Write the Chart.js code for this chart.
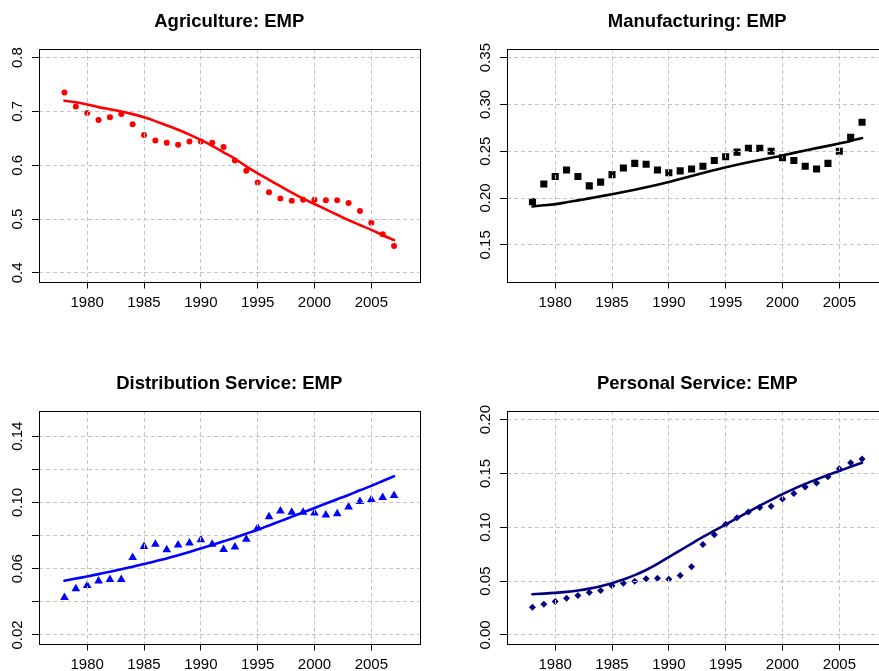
<!DOCTYPE html>
<html>
<head>
<meta charset="utf-8">
<title>Employment shares by sector</title>
<script src="https://cdn.jsdelivr.net/npm/chart.js@4/dist/chart.umd.min.js"></script>
<style>
  html, body { margin: 0; padding: 0; background: #fff; overflow: hidden; }
  #panels { position: relative; width: 879px; height: 671px; overflow: hidden; }
  #panels canvas { position: absolute; }
</style>
</head>
<body>
<div id="panels">
  <canvas id="agriChart" width="468" height="362" style="left:0;top:0"></canvas>
  <canvas id="mfgChart" width="468" height="362" style="left:468px;top:0"></canvas>
  <canvas id="distChart" width="468" height="362" style="left:0;top:362px"></canvas>
  <canvas id="persChart" width="468" height="362" style="left:468px;top:362px"></canvas>
</div>
<script>
const years = [1978, 1979, 1980, 1981, 1982, 1983, 1984, 1985, 1986, 1987,
  1988, 1989, 1990, 1991, 1992, 1993, 1994, 1995, 1996, 1997,
  1998, 1999, 2000, 2001, 2002, 2003, 2004, 2005, 2006, 2007];

// observed employment shares
const agriEmp = [0.735, 0.709, 0.697, 0.684, 0.689, 0.695, 0.676, 0.656, 0.646, 0.642,
  0.638, 0.644, 0.644, 0.642, 0.634, 0.609, 0.590, 0.568, 0.550, 0.538,
  0.534, 0.536, 0.536, 0.535, 0.535, 0.530, 0.515, 0.493, 0.472, 0.450];
const mfgEmp = [0.196, 0.215, 0.223, 0.230, 0.223, 0.213, 0.217, 0.225, 0.232, 0.237,
  0.236, 0.230, 0.227, 0.229, 0.231, 0.234, 0.240, 0.244, 0.249, 0.253,
  0.253, 0.250, 0.243, 0.240, 0.234, 0.231, 0.237, 0.250, 0.265, 0.281];
const distEmp = [0.0426, 0.0478, 0.0499, 0.0525, 0.0535, 0.0535, 0.0668, 0.0734, 0.0747, 0.0714,
  0.0743, 0.0755, 0.0775, 0.0747, 0.0716, 0.0730, 0.0777, 0.0847, 0.0914, 0.0948,
  0.0940, 0.0940, 0.0936, 0.0924, 0.0932, 0.0972, 0.1005, 0.1017, 0.1029, 0.1041];
const persEmp = [0.0257, 0.0285, 0.0310, 0.0341, 0.0366, 0.0394, 0.0412, 0.0456, 0.0480, 0.0499,
  0.0521, 0.0527, 0.0518, 0.0552, 0.0633, 0.0840, 0.0930, 0.1029, 0.1088, 0.1141,
  0.1184, 0.1195, 0.1262, 0.1313, 0.1375, 0.1411, 0.1470, 0.1544, 0.1600, 0.1634];

// fitted model curves
const agriFit = [0.720, 0.717, 0.713, 0.708, 0.704, 0.700, 0.695, 0.689, 0.682, 0.674,
  0.666, 0.657, 0.647, 0.636, 0.624, 0.612, 0.598, 0.585, 0.573, 0.561,
  0.549, 0.538, 0.528, 0.518, 0.508, 0.498, 0.489, 0.480, 0.470, 0.461];
const mfgFit = [0.1910, 0.1922, 0.1935, 0.1954, 0.1975, 0.1996, 0.2018, 0.2040, 0.2064, 0.2089,
  0.2115, 0.2142, 0.2171, 0.2202, 0.2234, 0.2266, 0.2298, 0.2329, 0.2356, 0.2382,
  0.2407, 0.2431, 0.2455, 0.2482, 0.2508, 0.2533, 0.2557, 0.2583, 0.2610, 0.2640];
const distFit = [0.0527, 0.0540, 0.0553, 0.0567, 0.0581, 0.0596, 0.0612, 0.0628, 0.0645, 0.0662,
  0.0681, 0.0701, 0.0722, 0.0743, 0.0765, 0.0787, 0.0811, 0.0835, 0.0861, 0.0887,
  0.0913, 0.0940, 0.0966, 0.0993, 0.1019, 0.1045, 0.1073, 0.1100, 0.1129, 0.1158];
const persFit = [0.0378, 0.0383, 0.0390, 0.0400, 0.0413, 0.0430, 0.0452, 0.0480, 0.0514, 0.0555,
  0.0603, 0.0660, 0.0723, 0.0785, 0.0848, 0.0910, 0.0968, 0.1025, 0.1085, 0.1143,
  0.1200, 0.1255, 0.1308, 0.1357, 0.1403, 0.1445, 0.1485, 0.1523, 0.1562, 0.1600];

Chart.defaults.font.family = '"Liberation Sans", Arial, Helvetica, sans-serif';
Chart.defaults.color = '#000';

const gridGray = '#c4c4c4';

// points first, then the dashed grid, then the fitted curve on top of both
const layering = {
  id: 'layering',
  beforeDatasetDraw(chart, args) {
    if (chart.data.datasets[args.index].isFit) return false;
  },
  afterDraw(chart) {
    chart.data.datasets.forEach((ds, i) => {
      if (ds.isFit) chart.getDatasetMeta(i).controller.draw();
    });
    const {ctx, chartArea: a} = chart;
    ctx.save();
    ctx.strokeStyle = '#000';
    ctx.lineWidth = 1;
    ctx.strokeRect(Math.round(a.left) + 0.5, Math.round(a.top) + 0.5,
      Math.round(a.right - a.left), Math.round(a.bottom - a.top));
    ctx.restore();
  }
};

const toPoints = values => years.map((x, i) => ({x, y: values[i]}));

function makePanel(canvas, cfg) {
  return new Chart(canvas, {
    type: 'scatter',
    data: {
      datasets: [{
        data: toPoints(cfg.fit),
        isFit: true,
        showLine: true,
        pointRadius: 0,
        borderColor: cfg.color,
        borderWidth: 2.6,
        borderCapStyle: 'round',
        borderJoinStyle: 'round',
        cubicInterpolationMode: 'monotone'
      }, {
        data: toPoints(cfg.emp),
        showLine: false,
        pointStyle: cfg.marker,
        pointRadius: cfg.size,
        pointBackgroundColor: cfg.color,
        pointBorderWidth: 0
      }]
    },
    options: {
      responsive: false,
      animation: false,
      events: [],
      layout: {padding: {left: 0, right: 48.5, top: 0, bottom: 0}},
      plugins: {
        legend: {display: false},
        tooltip: {enabled: false},
        title: {
          display: true,
          text: cfg.title,
          fullSize: false,
          color: '#000',
          font: {size: 18.5, weight: 'bold'},
          padding: {top: 10.4, bottom: 16.4}
        }
      },
      scales: {
        x: {
          type: 'linear',
          min: 1975.76,
          max: 2009.24,
          afterFit: s => { s.height = 80.5; },
          grid: {color: gridGray, z: 1, tickLength: 7, tickColor: '#000', tickWidth: 1, tickBorderDash: []},
          border: {display: false, dash: [4, 3]},
          ticks: {
            stepSize: 5, includeBounds: false, autoSkip: false, maxRotation: 0,
            padding: 5, font: {size: 15}, color: '#000',
            callback: v => String(v)
          }
        },
        y: {
          min: cfg.yMin,
          max: cfg.yMax,
          afterFit: s => { s.width = 39; },
          grid: {color: gridGray, z: 1, tickLength: 7, tickColor: '#000', tickWidth: 1, tickBorderDash: []},
          border: {display: false, dash: [4, 3]},
          ticks: {
            stepSize: cfg.yStep, includeBounds: false, autoSkip: false,
            minRotation: 90, maxRotation: 90, crossAlign: 'center',
            padding: cfg.yPad, font: {size: 15}, color: '#000',
            callback: cfg.yLabel
          }
        }
      }
    },
    plugins: [layering]
  });
}

window.addEventListener('load', () => {
  makePanel(document.querySelector('#agriChart'), {
    title: 'Agriculture: EMP', emp: agriEmp, fit: agriFit,
    color: '#ff0000', marker: 'circle', size: 3,
    yMin: 0.384, yMax: 0.816, yStep: 0.1, yPad: 4,
    yLabel: v => v.toFixed(1)
  });
  makePanel(document.querySelector('#mfgChart'), {
    title: 'Manufacturing: EMP', emp: mfgEmp, fit: mfgFit,
    color: '#000000', marker: 'rect', size: 5,
    yMin: 0.1108, yMax: 0.3592, yStep: 0.05, yPad: 0,
    yLabel: v => v.toFixed(2)
  });
  makePanel(document.querySelector('#distChart'), {
    title: 'Distribution Service: EMP', emp: distEmp, fit: distFit,
    color: '#0000ff', marker: 'triangle', size: 5,
    yMin: 0.0148, yMax: 0.1552, yStep: 0.02, yPad: 0,
    yLabel: (v, i) => (i % 2 === 0 ? v.toFixed(2) : '')
  });
  makePanel(document.querySelector('#persChart'), {
    title: 'Personal Service: EMP', emp: persEmp, fit: persFit,
    color: '#000080', marker: 'rectRot', size: 3.5,
    yMin: -0.008, yMax: 0.208, yStep: 0.05, yPad: 0,
    yLabel: v => v.toFixed(2)
  });
});
</script>
</body>
</html>
